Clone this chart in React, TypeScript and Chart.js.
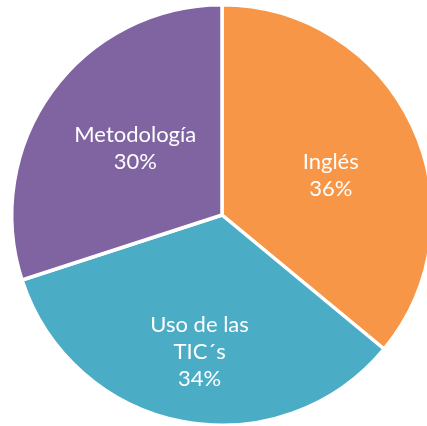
import React, { useEffect, useRef } from "react";
import { Chart, registerables } from "chart.js";

Chart.register(...registerables);

const categories = ["Inglés", "Uso de las TIC´s", "Metodología"];
const labelLines = [["Inglés"], ["Uso de las", "TIC´s"], ["Metodología"]];
const values = [36, 34, 30];
const colors = ["#F79646", "#4BACC6", "#8064A2"];

const labelPlugin = {
  id: "sliceLabels",
  afterDatasetsDraw(chart: any) {
    const ctx = chart.ctx;
    const meta = chart.getDatasetMeta(0);
    const factors = [0.55, 0.66, 0.52];
    const shifts = [5.3, -1.5, 1.5].map((d) => (d * Math.PI) / 180);
    const total = values.reduce((a, b) => a + b, 0);
    ctx.save();
    ctx.fillStyle = "#FFFFFF";
    ctx.font = "22px Lato, 'Open Sans', sans-serif";
    ctx.textAlign = "center";
    ctx.textBaseline = "middle";
    meta.data.forEach((arc: any, i: number) => {
      const mid = (arc.startAngle + arc.endAngle) / 2 + shifts[i];
      const r = arc.outerRadius * factors[i];
      const cx = arc.x + Math.cos(mid) * r;
      const cy = arc.y + Math.sin(mid) * r;
      const lines = [...labelLines[i], Math.round((values[i] / total) * 100) + "%"];
      const lh = 27;
      const y0 = cy - ((lines.length - 1) * lh) / 2;
      lines.forEach((t, j) => ctx.fillText(t, cx, y0 + j * lh));
    });
    ctx.restore();
  },
};

export default function App() {
  const ref = useRef<HTMLCanvasElement>(null);
  useEffect(() => {
    const chart = new Chart(ref.current!, {
      type: "pie",
      data: {
        labels: categories,
        datasets: [
          {
            data: values,
            backgroundColor: colors,
            borderColor: "#FFFFFF",
            borderWidth: 3.5,
          },
        ],
      },
      options: {
        animation: false,
        responsive: false,
        maintainAspectRatio: false,
        layout: { padding: 0 },
        plugins: {
          legend: { display: false },
          tooltip: { enabled: false },
        },
      },
      plugins: [labelPlugin],
    });
    return () => chart.destroy();
  }, []);
  return (
    <div style={{ position: "fixed", left: 0, top: 0, width: 427, height: 426, overflow: "hidden", background: "#fff" }}>
      <canvas
        ref={ref}
        width={444}
        height={424}
        style={{ position: "absolute", left: 0, top: 3, width: 444, height: 424 }}
      />
    </div>
  );
}
